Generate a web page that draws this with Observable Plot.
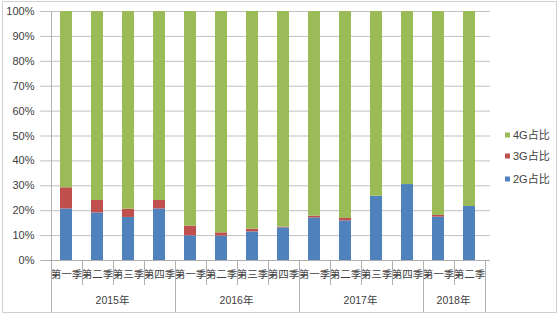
<!DOCTYPE html>
<html><head><meta charset="utf-8">
<script src="https://cdn.jsdelivr.net/npm/d3@7"></script>
<script src="https://cdn.jsdelivr.net/npm/@observablehq/plot@0.6"></script>
<style>body{margin:0;background:#fff}#chart{position:relative;width:560px;height:317px}</style>
</head><body><div id="chart"></div>
<script>
const quarters = ["第一季","第二季","第三季","第四季","第一季","第二季","第三季","第四季","第一季","第二季","第三季","第四季","第一季","第二季"];
const yearLabels = ["2015年","2015年","2015年","2015年","2016年","2016年","2016年","2016年","2017年","2017年","2017年","2017年","2018年","2018年"];
const share2G = [20.7,19.1,17.3,20.7,9.9,9.8,11.5,13.1,17.1,15.9,25.8,30.5,17.4,21.7];
const share3G = [8.5,5.0,3.3,3.4,3.9,1.3,1.1,0.3,0.7,1.0,0.0,0.0,0.7,0.0];
const share4G = [70.8,75.9,79.4,75.9,86.2,88.9,87.4,86.6,82.2,83.1,74.2,69.5,81.9,78.3];
const seriesNames = ["2G占比","3G占比","4G占比"];
const seriesColors = ["#4F81BD","#C0504D","#9BBB59"];
const yTicks = [0,10,20,30,40,50,60,70,80,90,100];

const keys = quarters.map((q,i)=>yearLabels[i]+"|"+q);
const rows = [];
keys.forEach((k,i)=>{
  rows.push({k, s:"2G占比", v:share2G[i]});
  rows.push({k, s:"3G占比", v:share3G[i]});
  rows.push({k, s:"4G占比", v:share4G[i]});
});

const W=560,H=317,ML=44,MR=70,MT=11,MB=57;
const font = '"Liberation Sans","Noto Sans CJK SC",sans-serif';

const plot = Plot.plot({
  width:W, height:H,
  marginLeft:ML, marginRight:MR, marginTop:MT, marginBottom:MB,
  style:{fontFamily:font, fontSize:"11px", color:"#404040", background:"#fff", overflow:"visible"},
  x:{domain:keys, paddingInner:0.62, paddingOuter:0.31, label:null},
  y:{domain:[0,100], label:null},
  color:{domain:seriesNames, range:seriesColors},
  marks:[
    Plot.ruleY(yTicks, {stroke:"#c0c0c0", strokeWidth:1}),
    Plot.barY(rows, {x:"k", y:"v", fill:"s", order:seriesNames}),
    Plot.axisY({ticks:yTicks, tickFormat:d=>d+"%", tickSize:4, tickPadding:6, stroke:"#c0c0c0", label:null, fill:"#404040", fontSize:11}),
    Plot.axisX({tickFormat:k=>k.split("|")[1], tickSize:0, tickPadding:10, label:null, fill:"#404040", fontSize:10.5}),
    Plot.ruleY([0], {stroke:"#b0b0b0"})
  ]
});

const svg = d3.select(plot);
const xs = plot.scale("x");
const bw = xs.bandwidth;
const step = xs.step || (W-ML-MR)/keys.length;
const leftEdge = i => xs.apply(keys[i]) + bw/2 - step/2;
const boundary = i => i < keys.length ? leftEdge(i) : leftEdge(keys.length-1) + step;
const yearStarts = [0];
yearLabels.forEach((y,i)=>{ if(i>0 && y!==yearLabels[i-1]) yearStarts.push(i); });
yearStarts.push(keys.length);
const yS = plot.scale("y");
const y0 = yS.apply(0), y100 = yS.apply(100);
const gl = svg.append("g").attr("stroke","#b0b0b0").attr("stroke-width",1);
for(let i=0;i<=keys.length;i++){
  const x = Math.round(boundary(i))+0.5;
  const yEnd = yearStarts.includes(i) ? 312.5 : 285;
  const yStart = i===0 ? y100 : y0;
  gl.append("line").attr("x1",x).attr("x2",x).attr("y1",yStart).attr("y2",yEnd);
}
// year labels centred in their groups
const yg = svg.append("g").attr("font-family",font).attr("font-size",10.5).attr("fill","#404040").attr("text-anchor","middle");
for(let j=0;j<yearStarts.length-1;j++){
  const a = boundary(yearStarts[j]), b = boundary(yearStarts[j+1]);
  yg.append("text").attr("x",(a+b)/2).attr("y",300).attr("dy","0.35em").text(yearLabels[yearStarts[j]]);
}
// outer border
svg.append("rect").attr("x",2.5).attr("y",1.5).attr("width",554).attr("height",311).attr("fill","none").attr("stroke","#d0d0d0");
// legend
const legendItems = seriesNames.slice().reverse();
const legendColors = seriesColors.slice().reverse();
const legY = [135,156,179];
const lg = svg.append("g").attr("font-family",font).attr("font-size",11).attr("fill","#404040").attr("text-anchor","start");
legendItems.forEach((n,i)=>{
  lg.append("rect").attr("x",505).attr("y",legY[i]-2.5).attr("width",5).attr("height",5).attr("fill",legendColors[i]);
  lg.append("text").attr("x",513).attr("y",legY[i]).attr("dy","0.35em").text(n);
});
document.getElementById("chart").appendChild(plot);
</script>
</body></html>
